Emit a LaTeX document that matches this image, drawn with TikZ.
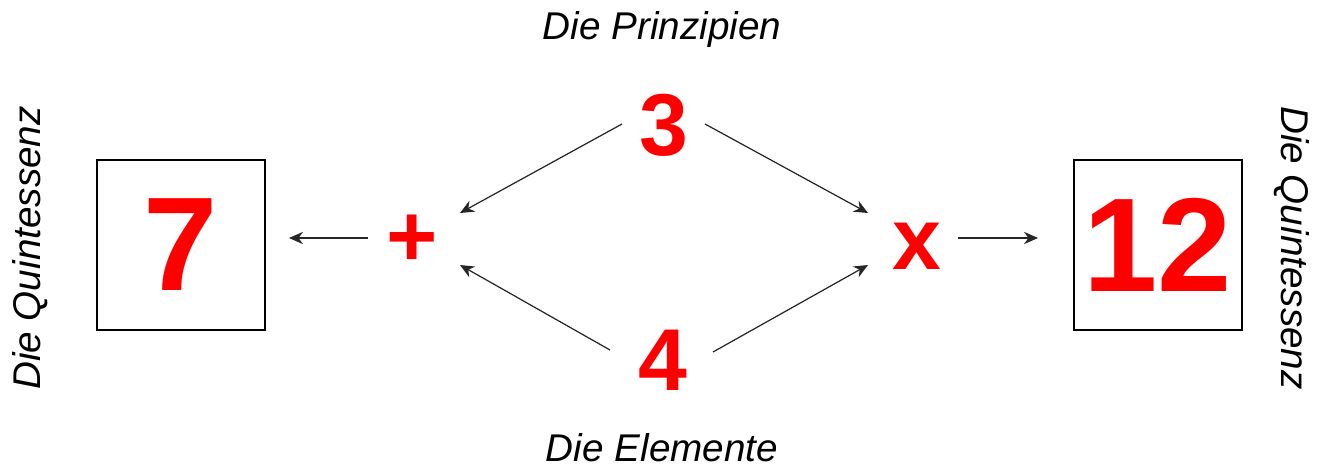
\documentclass[tikz,border=0pt]{standalone}
\usepackage{fontspec}
\setmainfont{Liberation Sans}
\usetikzlibrary{arrows.meta}
\begin{document}
\begin{tikzpicture}[x=0.02cm,y=-0.02cm,
  lbl/.style={font=\fontsize{22}{26}\selectfont\itshape, inner sep=0pt},
  big/.style={text=red, font=\fontsize{76}{80}\selectfont\bfseries, inner sep=0pt},
  op/.style={text=red, font=\fontsize{50}{54}\selectfont\bfseries, inner sep=0pt},
  box/.style={draw, line width=1.5pt, minimum width=3.36cm, minimum height=3.4cm, inner sep=0pt},
  conn/.style={-{Stealth[length=8pt,width=7pt]}, line width=0.7pt, draw=black!85}]
\useasboundingbox (0,0) rectangle (1319,470);
\node[lbl] (tp) at (662,30) {Die Prinzipien};
\node[lbl] (bt) at (662,448) {Die Elemente};
\node[lbl, rotate=90] (lq) at (30,248) {Die Quintessenz};
\node[lbl, rotate=-90] (rq) at (1292,248) {Die Quintessenz};
\node[box] (b7) at (181,245) {};
\node[big] (n7) at (181,245) {7};
\node[box] (b12) at (1158,245) {};
\node[big] (n12) at (1158,245) {12};
\node[op] (n3) at (664,125) {3};
\node[op] (n4) at (663,360) {4};
\node[op] (pl) at (412,241) {+};
\node[op] (mx) at (917,246) {x};
\coordinate (a3l) at (622,124);
\coordinate (a3r) at (705,124);
\coordinate (a4l) at (610,350);
\coordinate (a4r) at (713,352);
\coordinate (plt) at (460,213);
\coordinate (plb) at (460,265);
\coordinate (mxt) at (868,213);
\coordinate (mxb) at (868,265);
\coordinate (pll) at (368,238);
\coordinate (b7r) at (289,238);
\coordinate (mxr) at (958,238);
\coordinate (b12l) at (1038,238);
\draw[conn] (a3l) -- (plt);
\draw[conn] (a3r) -- (mxt);
\draw[conn] (a4l) -- (plb);
\draw[conn] (a4r) -- (mxb);
\draw[conn] (pll) -- (b7r);
\draw[conn] (mxr) -- (b12l);
\end{tikzpicture}
\end{document}
